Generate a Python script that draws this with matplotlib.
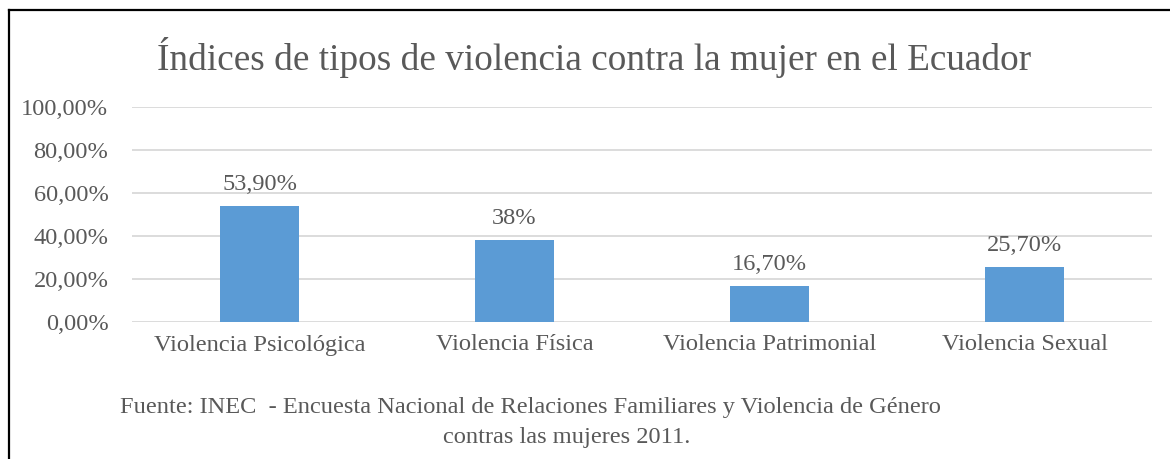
import numpy as np
import matplotlib
matplotlib.use("Agg")
import matplotlib.pyplot as plt
from matplotlib.lines import Line2D

categorias = ["Violencia Psicológica", "Violencia Física", "Violencia Patrimonial", "Violencia Sexual"]
valores = [53.9, 38.0, 16.7, 25.7]
etiquetas = ["53,90%", "38%", "16,70%", "25,70%"]
ticks_y = [0, 20, 40, 60, 80, 100]
ticks_txt = ["0,00%", "20,00%", "40,00%", "60,00%", "80,00%", "100,00%"]

plt.rcParams['font.family'] = ['Liberation Serif', 'DejaVu Serif']
gris = '#595959'
fs = 17.6

fig = plt.figure(figsize=(11.7, 4.59), dpi=100)
ax = fig.add_axes([132/1170, 1-322/459, (1152-132)/1170, (322-107)/459])

x = np.arange(len(categorias))
ax.bar(x, valores, width=0.31, color='#5B9BD5', zorder=3)
for xi, v, t in zip(x, valores, etiquetas):
    ax.annotate(t, (xi, v), xytext=(0, 8), textcoords='offset points',
                ha='center', va='bottom', fontsize=fs, color=gris)

ax.set_xlim(-0.5, len(categorias) - 0.5)
ax.set_ylim(0, 100)
ax.set_yticks(ticks_y)
ax.set_yticklabels(ticks_txt, fontsize=fs, color=gris)
ax.set_xticks(x)
ax.set_xticklabels(categorias, fontsize=fs, color=gris)
ax.tick_params(axis='y', length=0, pad=17)
ax.tick_params(axis='x', length=0, pad=9)
ax.grid(axis='y', color='#d9d9d9', linewidth=1.3, zorder=0)
for s in ax.spines.values():
    s.set_visible(False)

fig.text(594/1170, 1-57/459, "Índices de tipos de violencia contra la mujer en el Ecuador",
         ha='center', va='center', fontsize=26.8, color=gris)
fig.text(530/1170, 1-408/459,
         "Fuente: INEC  - Encuesta Nacional de Relaciones Familiares y Violencia de Género",
         ha='center', va='center', fontsize=fs, color=gris)
fig.text(567/1170, 1-438/459, "contras las mujeres 2011.",
         ha='center', va='center', fontsize=fs, color=gris)

# marco
fig.add_artist(Line2D([9/1170, 1], [1-10/459, 1-10/459], color='black', linewidth=1.6))
fig.add_artist(Line2D([9/1170, 9/1170], [0, 1-10/459], color='black', linewidth=1.6))

fig.savefig("out.png", dpi=100)
